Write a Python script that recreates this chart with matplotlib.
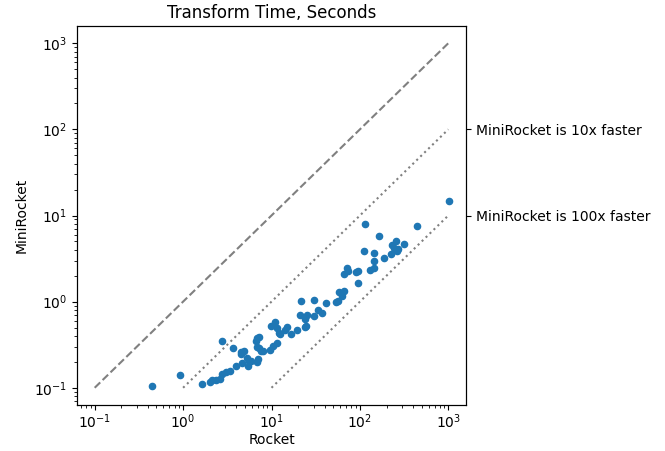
import matplotlib
matplotlib.use("Agg")
import matplotlib.pyplot as plt
import numpy as np

rocket = [0.45, 0.92, 1.63, 1.99, 2.10, 2.33, 2.61, 2.77, 3.02, 3.38,
          2.74, 3.69, 4.47, 4.57, 4.9, 4.67, 5.31, 5.55, 5.79, 5.45,
          6.77, 7.07, 6.6, 6.89, 7.31, 6.89, 7.19, 7.65, 8.06, 9.57,
          10.35, 11.4, 9.82, 10.9, 11.6, 12.1, 12.4, 14.1, 14.8, 16.5,
          19.2, 21.1, 24.9, 24.0, 24.4, 24.0, 30.6, 33.4, 37.7, 21.7,
          30.1, 41.8, 57.6, 65.6, 63.4, 56.1, 54.2, 71.8, 72.8, 65.6,
          91.2, 94.4, 95.5, 129, 143, 146, 146, 110, 188, 227,
          241, 252, 270, 263, 231, 258, 316, 115, 165, 443,
          1008, 3.99]
minirocket = [0.104, 0.14, 0.11, 0.116, 0.123, 0.123, 0.126, 0.144, 0.153, 0.158,
              0.35, 0.289, 0.258, 0.248, 0.265, 0.192, 0.22, 0.203, 0.206, 0.18,
              0.2, 0.214, 0.346, 0.374, 0.384, 0.299, 0.286, 0.265, 0.265, 0.276,
              0.302, 0.327, 0.515, 0.583, 0.489, 0.431, 0.42, 0.467, 0.502, 0.42,
              0.471, 0.697, 0.703, 0.627, 0.524, 0.502, 0.684, 0.797, 0.736, 1.02,
              1.04, 0.96, 1.3, 1.32, 1.17, 1.03, 0.98, 2.43, 2.24, 2.07,
              2.22, 2.26, 1.64, 2.32, 2.49, 2.95, 3.68, 3.85, 3.22, 3.53,
              4.17, 3.95, 4.06, 3.82, 4.56, 5.03, 4.73, 7.92, 5.8, 7.57,
              14.6, 0.177]

diag = [0.1, 1000]
line10 = [1, 1000]
line100 = [10, 1000]
right_ticks = [10, 100]
right_labels = ["MiniRocket is 100x faster", "MiniRocket is 10x faster"]

fig = plt.figure(figsize=(6.65, 4.51), dpi=100)
ax = fig.add_axes([77/665, (451-405)/451, 389/665, 379/451])

ax.plot(diag, diag, color="gray", linestyle="--", linewidth=1.5)
ax.plot(line10, [v/10 for v in line10], color="gray", linestyle=":", linewidth=1.5)
ax.plot(line100, [v/100 for v in line100], color="gray", linestyle=":", linewidth=1.5)
ax.scatter(rocket, minirocket, s=20, color="#1f77b4", zorder=3)

ax.set_xscale("log")
ax.set_yscale("log")
lo, hi = 10**-1.2, 10**3.2
ax.set_xlim(lo, hi)
ax.set_ylim(lo, hi)
ax.set_xlabel("Rocket", labelpad=1)
ax.set_ylabel("MiniRocket")
ax.set_title("Transform Time, Seconds")
ax.tick_params(axis="x", which="major", pad=2)

ax2 = ax.twinx()
ax2.set_yscale("log")
ax2.set_ylim(lo, hi)
ax2.set_yticks(right_ticks)
ax2.set_yticklabels(right_labels)
ax2.yaxis.set_minor_locator(matplotlib.ticker.NullLocator())

fig.savefig("out.png", dpi=100)
